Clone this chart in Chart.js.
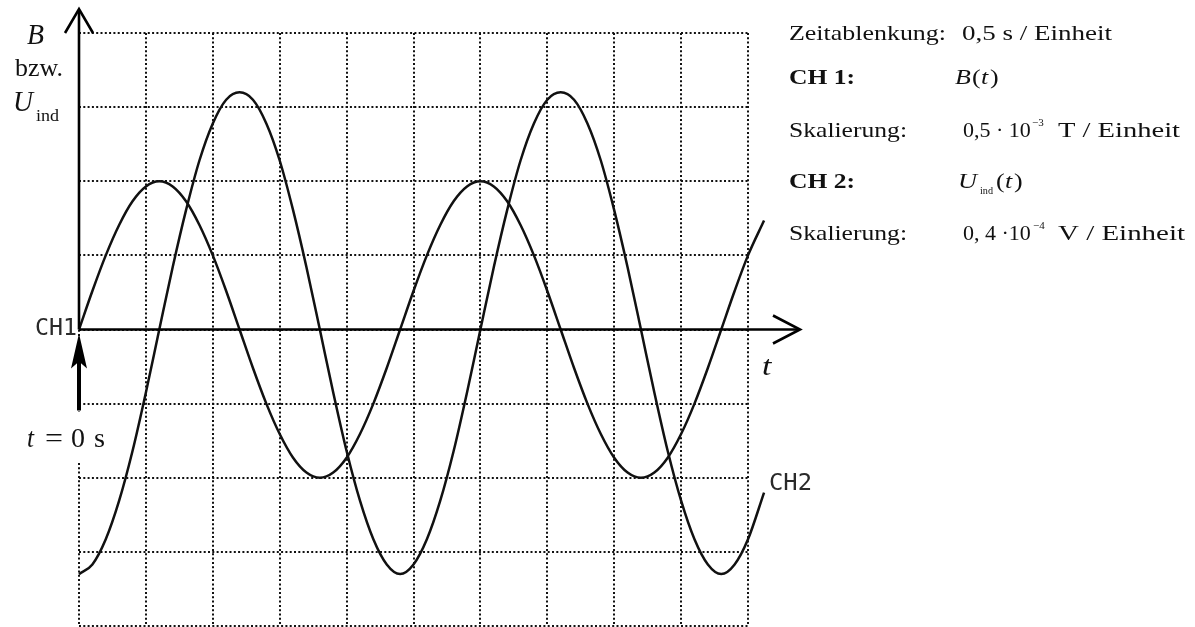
<!DOCTYPE html>
<html lang="de">
<head>
<meta charset="UTF-8">
<title>Oszilloskop: B(t) und U_ind(t)</title>
<script src="https://cdn.jsdelivr.net/npm/chart.js@4.4.1/dist/chart.umd.min.js"></script>
<style>
    html, body { margin: 0; padding: 0; background: #fff; }
    #wrap { width: 1195px; height: 627px; }
</style>
</head>
<body>
<div id="wrap"><canvas id="scope" width="1195" height="627"></canvas></div>
<script>
// time in s (0,5 s per division), channel values in divisions
const timeSec = [0, 0.1, 0.2, 0.3, 0.4, 0.5, 0.6, 0.7, 0.8, 0.9, 1.0, 1.1, 1.2, 1.3, 1.4, 1.5, 1.6, 1.7,
                 1.8, 1.9, 2.0, 2.1, 2.2, 2.3, 2.4, 2.5, 2.6, 2.7, 2.8, 2.9, 3.0, 3.1, 3.2, 3.3, 3.4, 3.5,
                 3.6, 3.7, 3.8, 3.9, 4.0, 4.1, 4.2, 4.3, 4.4, 4.5, 4.6, 4.7, 4.8, 4.9, 5.0, 5.12];
const chB = [0, 0.52, 1.0, 1.41, 1.73, 1.93, 2.0, 1.93, 1.73, 1.41, 1.0, 0.52,
             0, -0.52, -1.0, -1.41, -1.73, -1.93, -2.0, -1.93, -1.73, -1.41, -1.0, -0.52,
             0, 0.52, 1.0, 1.41, 1.73, 1.93, 2.0, 1.93, 1.73, 1.41, 1.0, 0.52,
             0, -0.52, -1.0, -1.41, -1.73, -1.93, -2.0, -1.93, -1.73, -1.41, -1.0, -0.52,
             0, 0.52, 1.0, 1.47];
const chU = [-3.3, -3.17, -2.83, -2.31, -1.64, -0.85, 0, 0.84, 1.61, 2.28, 2.78, 3.1,
             3.2, 3.1, 2.78, 2.28, 1.61, 0.84, 0, -0.85, -1.64, -2.31, -2.83, -3.17,
             -3.3, -3.17, -2.83, -2.31, -1.64, -0.85, 0, 0.84, 1.61, 2.28, 2.78, 3.1,
             3.2, 3.1, 2.78, 2.28, 1.61, 0.84, 0, -0.85, -1.64, -2.31, -2.83, -3.17,
             -3.3, -3.17, -2.83, -2.2];
const xRange = [0, 5];
const yRange = [-4, 4];

const SERIF = '"Liberation Serif", "Times New Roman", serif';
const MONO = '"DejaVu Sans Mono", monospace';
const SX = 1.18; // the reference lettering is a bit wide

// text with a horizontal scale; opt.w means "fit to w pixels"
function drawText(ctx, text, x, y, font, opt) {
    ctx.font = font;
    let sx = SX;
    if (opt && opt.w) sx = opt.w / ctx.measureText(text).width;
    else if (opt && opt.sx) sx = opt.sx;
    ctx.save();
    ctx.translate(x, y);
    ctx.scale(sx, 1);
    ctx.fillText(text, 0, 0);
    ctx.restore();
}

const labels = [
    // left axis caption
    ['B', 27, 44, 'italic 30px ' + SERIF, { w: 17 }],
    ['bzw.', 15, 76, '25px ' + SERIF, { w: 48 }],
    ['U', 13, 111, 'italic 30px ' + SERIF, { w: 20 }],
    ['ind', 36, 121, '16px ' + SERIF, { w: 23 }],
    // t axis
    ['t', 762, 375, 'italic 27px ' + SERIF, { sx: 1.25 }],
    ['t', 27, 447, 'italic 28px ' + SERIF, { w: 7 }],
    ['=', 45, 447, '28px ' + SERIF, { w: 18 }],
    ['0', 71, 447, '28px ' + SERIF, { w: 14 }],
    ['s', 94, 447, '28px ' + SERIF, { w: 11 }],
    // channel markers
    ['CH1', 35, 335, '23px ' + MONO, { w: 42 }],
    ['CH2', 769, 490, '23px ' + MONO, { w: 43 }],
    // settings block
    ['Zeitablenkung:', 789, 40, '22px ' + SERIF, { w: 157 }],
    ['0,5 s / Einheit', 962, 40, '22px ' + SERIF, { w: 150 }],
    ['CH 1:', 789, 84, 'bold 22px ' + SERIF, { w: 66 }],
    ['B', 955, 84, 'italic 22px ' + SERIF],
    ['(', 972, 84, '22px ' + SERIF],
    ['t', 981, 84, 'italic 22px ' + SERIF],
    [')', 990, 84, '22px ' + SERIF],
    ['Skalierung:', 789, 137, '22px ' + SERIF, { w: 118 }],
    ['0,5 \u00b7 10', 963, 137, '22px ' + SERIF, { sx: 1.0 }],
    ['\u22123', 1032, 126, '11px ' + SERIF, { sx: 1.0 }],
    ['T / Einheit', 1058, 137, '22px ' + SERIF, { w: 122 }],
    ['CH 2:', 789, 188, 'bold 22px ' + SERIF, { w: 66 }],
    ['U', 958, 188, 'italic 22px ' + SERIF, { w: 19 }],
    ['ind', 980, 194, '10px ' + SERIF, { w: 13 }],
    ['(', 996, 188, '22px ' + SERIF],
    ['t', 1005, 188, 'italic 22px ' + SERIF],
    [')', 1014, 188, '22px ' + SERIF],
    ['Skalierung:', 789, 240, '22px ' + SERIF, { w: 118 }],
    ['0, 4 \u00b710', 963, 240, '22px ' + SERIF, { sx: 1.0 }],
    ['\u22124', 1033, 229, '11px ' + SERIF, { sx: 1.0 }],
    ['V / Einheit', 1058, 240, '22px ' + SERIF, { w: 127 }]
];

const scopeDecor = {
    id: 'scopeDecor',
    beforeDatasetsDraw(chart) {
        const ctx = chart.ctx;
        // white patch behind "t = 0 s"
        ctx.save();
        ctx.fillStyle = '#fff';
        ctx.fillRect(18, 412, 113, 49);
        ctx.restore();
    },
    afterDatasetsDraw(chart) {
        const { ctx, scales: { x, y } } = chart;
        const x0 = x.getPixelForValue(0);
        const y0 = y.getPixelForValue(0);
        const top = y.getPixelForValue(yRange[1]);
        const right = x.getPixelForValue(xRange[1]);

        ctx.save();
        ctx.strokeStyle = '#000';
        ctx.lineWidth = 2.6;

        // B / U axis with arrow
        ctx.beginPath();
        ctx.moveTo(x0, y0);
        ctx.lineTo(x0, top - 22);
        ctx.stroke();
        ctx.beginPath();
        ctx.moveTo(x0 - 14, top);
        ctx.lineTo(x0, top - 24);
        ctx.lineTo(x0 + 14, top);
        ctx.stroke();

        // t axis with arrow
        ctx.beginPath();
        ctx.moveTo(x0, y0);
        ctx.lineTo(right + 50, y0);
        ctx.stroke();
        ctx.beginPath();
        ctx.moveTo(right + 25, y0 - 14);
        ctx.lineTo(right + 52, y0);
        ctx.lineTo(right + 25, y0 + 14);
        ctx.stroke();

        // t = 0 marker arrow
        ctx.lineWidth = 4;
        ctx.beginPath();
        ctx.moveTo(x0, y0 + 30);
        ctx.lineTo(x0, y0 + 81);
        ctx.stroke();
        ctx.fillStyle = '#000';
        ctx.beginPath();
        ctx.moveTo(x0, y0 + 4);
        ctx.lineTo(x0 - 8, y0 + 39);
        ctx.lineTo(x0, y0 + 32);
        ctx.lineTo(x0 + 8, y0 + 39);
        ctx.closePath();
        ctx.fill();

        // texts
        ctx.textBaseline = 'alphabetic';
        ctx.textAlign = 'left';
        labels.forEach(([txt, lx, ly, font, opt]) => {
            ctx.fillStyle = font.includes('Mono') ? '#2a2a2a' : '#111';
            drawText(ctx, txt, lx, ly, font, opt);
        });
        ctx.restore();
    }
};

const toPoints = vals => timeSec.map((t, i) => ({ x: t, y: vals[i] }));

// fixed range set after the data limits, so the trace may run past the last division
const fixRange = r => s => { s.min = r[0]; s.max = r[1]; };

new Chart(document.getElementById('scope'), {
    type: 'line',
    data: {
        datasets: [
            {
                label: 'CH1 B(t)',
                data: toPoints(chB),
                borderColor: '#111',
                borderWidth: 2.5,
                pointRadius: 0,
                cubicInterpolationMode: 'monotone',
                clip: false
            },
            {
                label: 'CH2 U_ind(t)',
                data: toPoints(chU),
                borderColor: '#111',
                borderWidth: 2.5,
                pointRadius: 0,
                cubicInterpolationMode: 'monotone',
                clip: false
            }
        ]
    },
    options: {
        responsive: false,
        devicePixelRatio: 1,
        animation: false,
        layout: { padding: { left: 79, right: 447, top: 33, bottom: 1 } },
        plugins: { legend: { display: false }, tooltip: { enabled: false } },
        scales: {
            x: {
                type: 'linear',
                afterDataLimits: fixRange(xRange),
                ticks: { display: false, stepSize: 0.5 },
                grid: { color: '#111', lineWidth: 2, drawTicks: false },
                border: { display: false, dash: [2, 2.3] },
                afterFit: s => { s.height = 0; }
            },
            y: {
                type: 'linear',
                afterDataLimits: fixRange(yRange),
                ticks: { display: false, stepSize: 1 },
                grid: { color: '#111', lineWidth: 2, drawTicks: false },
                border: { display: false, dash: [2, 2.3] },
                afterFit: s => { s.width = 0; }
            }
        }
    },
    plugins: [scopeDecor]
});
</script>
</body>
</html>
